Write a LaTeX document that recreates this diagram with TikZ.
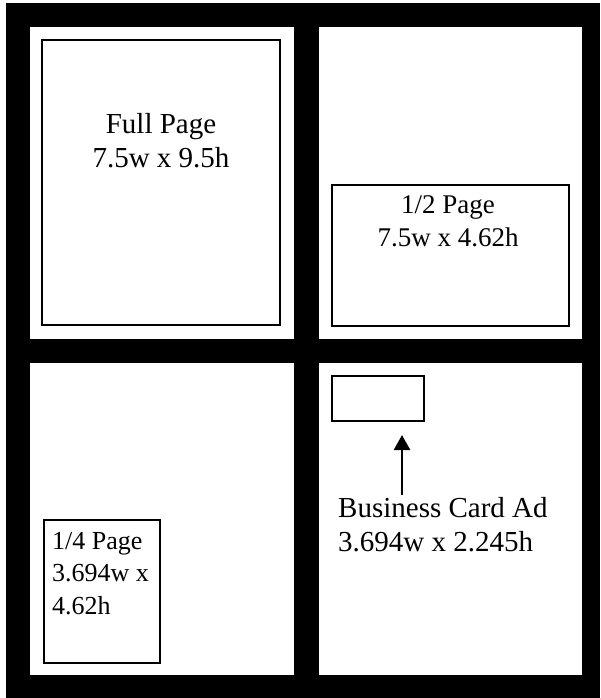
\documentclass[tikz,border=0pt]{standalone}
\usepackage{fontspec}
\setmainfont{Liberation Serif}
\usetikzlibrary{arrows.meta}

\begin{document}
\begin{tikzpicture}[
    x=1pt, y=-1pt,
    panel/.style={fill=white},
    adbox/.style={draw, line width=2pt, inner sep=0pt},
    bigtext/.style={inner sep=0pt, align=center, font=\fontsize{29}{34}\selectfont},
    midtext/.style={inner sep=0pt, align=center, font=\fontsize{27}{33}\selectfont},
    smalltext/.style={inner sep=0pt, align=left, font=\fontsize{26}{32.5}\selectfont}
]

\useasboundingbox (0,0) rectangle (600,698);
\fill[white] (0,0) rectangle (600,698);
\fill[black] (6,3) rectangle (600,698);

% Panels
\fill[panel] (30,27) rectangle (294,339);
\fill[panel] (319,27) rectangle (582,339);
\fill[panel] (30,363) rectangle (294,675);
\fill[panel] (319,363) rectangle (582,675);

% Ad boxes
\node[adbox, minimum width=238pt, minimum height=285pt] (full) at (161,182.5) {};
\node[adbox, minimum width=237pt, minimum height=141pt] (half) at (450.5,255.5) {};
\node[adbox, minimum width=92pt, minimum height=45pt] (card) at (378,398.5) {};
\node[adbox, minimum width=116pt, minimum height=143pt] (quarter) at (102,591.5) {};

% Labels (base = last line)
\node[bigtext, anchor=base] (fulllabel) at (161,167) {Full Page\\7.5w x 9.5h};
\node[midtext, anchor=base] (halflabel) at (448,246) {1/2 Page\\7.5w x 4.62h};
\node[bigtext, anchor=base west, align=left] (cardlabel) at (338,551) {Business Card Ad\\3.694w x 2.245h};
\node[smalltext, anchor=base west] (quarterlabel) at (52,614) {1/4 Page\\3.694w x\\4.62h};

% Arrow
\coordinate (cardfoot) at (402,495);
\coordinate (cardtip) at (402,435);
\draw[line width=2.5pt, -{Triangle[width=16pt, length=15pt]}] (cardfoot) -- (cardtip);

\end{tikzpicture}
\end{document}
